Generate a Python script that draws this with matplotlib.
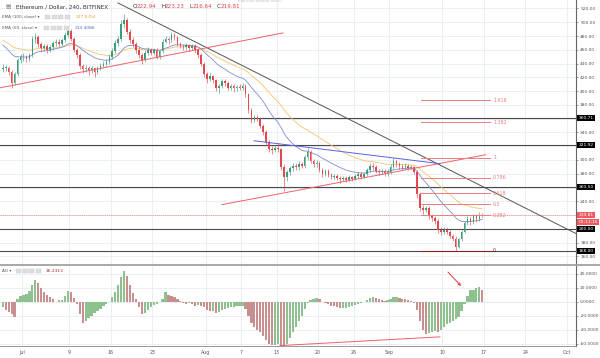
import matplotlib
matplotlib.use("Agg")
import matplotlib.pyplot as plt
import matplotlib.dates as mdates
from matplotlib.transforms import blended_transform_factory
from datetime import datetime, timedelta
import numpy as np

# 12h candles, ETH/USD
start = datetime(2018, 6, 27, 12)
closes = [434,434,428,412,425,445,449,450,447,452,
          476,478,468,462,466,460,464,470,472,468,
          474,482,488,476,460,452,436,432,434,430,
          433,428,434,437,440,442,450,458,470,476,
          498,503,486,474,468,460,452,445,456,460,
          456,460,450,458,472,476,474,482,478,469,
          466,464,467,463,465,460,452,440,425,418,
          422,416,405,408,414,412,405,407,404,406,
          405,408,396,372,358,362,360,350,340,326,
          316,314,318,316,290,276,282,288,292,290,
          294,292,304,312,298,294,296,286,280,284,
          278,276,277,274,272,274,271,275,273,277,
          279,276,280,286,292,290,284,282,284,281,
          283,290,298,294,291,290,292,289,290,283,
          250,230,228,230,218,216,212,198,196,199,
          196,190,186,174,185,196,208,214,210,218,
          214,220,219.81]
highs = [440,438,437,430,428,448,454,455,453,456,
         480,484,481,471,469,468,467,473,476,475,
         477,486,492,490,478,463,455,440,438,437,
         437,435,437,441,444,446,454,462,474,480,
         503,512,506,490,478,472,464,456,459,464,
         463,463,462,460,475,480,479,486,484,480,
         472,469,470,469,468,468,463,455,443,428,
         426,424,418,411,418,417,414,410,410,409,
         410,412,410,398,375,366,366,363,352,343,
         329,320,322,324,318,294,285,292,296,296,
         298,297,307,318,314,301,300,299,289,287,
         287,281,280,280,277,277,277,278,277,280,
         282,282,283,289,296,295,293,287,287,287,
         287,294,303,300,297,294,295,294,293,292,
         285,253,235,233,233,222,219,215,202,203,
         203,199,193,189,187,198,211,218,217,221,
         222,224,223.2]
lows = [428,429,424,405,409,422,441,444,442,444,
        450,470,464,458,458,456,457,461,466,464,
        465,471,479,473,457,448,432,426,428,424,
        426,420,425,431,434,436,439,447,455,466,
        473,492,483,470,464,456,448,440,442,452,
        452,452,446,447,455,470,469,471,474,466,
        462,459,460,458,459,456,448,436,420,412,
        414,412,400,398,404,408,401,401,399,400,
        401,402,392,368,354,355,356,346,336,322,
        312,309,311,312,286,255,270,278,284,285,
        286,288,289,300,295,290,290,283,276,277,
        275,272,273,271,267,269,268,269,270,271,
        274,272,274,277,283,286,281,278,279,277,
        277,280,287,290,287,286,287,285,286,280,
        245,226,222,224,214,211,207,194,191,192,
        192,187,182,168,172,183,194,205,205,207,
        210,212,216.6]
first_open = 432
ao = [-8,-12,-15,-18,-22,3,8,10,11,15,
      24,31,26,20,14,10,7,3,0,2,
      2,8,15,13,5,-3,-18,-30,-28,-24,
      -20,-17,-14,-10,-7,-3,0,6,14,24,
      35,44,36,24,12,3,-8,-18,-16,-12,
      -8,-5,-3,-1,3,13,10,8,7,4,
      1,-2,-4,-2,-4,-6,-5,-6,-8,-12,
      -14,-14,-16,-15,-12,-10,-9,-8,-8,-7,
      -7,-6,-10,-20,-30,-36,-40,-44,-49,-55,
      -60,-62,-62,-60,-62,-65,-60,-52,-44,-36,
      -28,-20,-10,-2,2,4,5,3,0,-2,
      -4,-6,-7,-8,-9,-9,-9,-8,-6,-5,
      -3,-2,0,2,5,6,5,3,2,1,
      2,3,6,6,5,4,3,2,1,-2,
      -12,-28,-40,-47,-45,-43,-42,-44,-40,-36,
      -32,-30,-28,-25,-22,-14,-3,8,17,17,
      19,21,16]
ema_seed = {"100": 476, "50": 471}

h_levels = [360.71, 321.92, 260.50, 200.00, 168.00]
fib_ratios = [1.618, 1.382, 1, 0.786, 0.618, 0.5, 0.382, 0]
fib_low, fib_high = 168.0, 303.0
last_price = 219.81

price_ticks = list(range(160, 521, 20))
hidden_ticks = [360, 320, 260, 220, 200]
ao_ticks = [40, 20, 0, -20, -40, -60]
date_ticks = [(2018,7,1,'Jul'),(2018,7,9,'9'),(2018,7,16,'16'),(2018,7,23,'23'),
              (2018,8,1,'Aug'),(2018,8,7,'7'),(2018,8,13,'13'),(2018,8,20,'20'),
              (2018,8,26,'26'),(2018,9,1,'Sep'),(2018,9,10,'10'),(2018,9,17,'17'),
              (2018,9,24,'24'),(2018,10,1,'Oct')]

UP, DOWN = '#3f9c7b', '#e5474d'
GRID = '#e6edf5'

n = len(closes)
t = np.array([mdates.date2num(start + timedelta(hours=12*i + 6)) for i in range(n)])
c = np.array(closes, float)
o = np.array([first_open] + closes[:-1], float)
hi = np.array(highs, float)
lo = np.array(lows, float)

def ema(vals, span4h, seed):
    a = 1 - (1 - 2.0/(span4h+1))**3   # 4h span converted to 12h steps
    e = seed
    out = []
    for v in vals:
        e = e + a*(v - e)
        out.append(e)
    return np.array(out)

ema100 = ema(c, 100, ema_seed["100"])
ema50 = ema(c, 50, ema_seed["50"])

W, H = 600, 358
def fx(px): return px / W
def fy(py): return 1 - py / H

fig = plt.figure(figsize=(6, 3.58), dpi=100)
fig.patch.set_facecolor('white')
ax = fig.add_axes([0, fy(264), 576/W, 264/H])
ax2 = fig.add_axes([0, fy(346), 576/W, 80/H], sharex=ax)

d0 = mdates.date2num(datetime(2018, 7, 1))
ppd = 5.92
ax.set_xlim(d0 - 22/ppd, d0 + 554/ppd)
k = 0.69
ax.set_ylim(520 - 256/k, 520 + 8.5/k)
ax2.set_ylim(-(346 - 301.5)/0.7, (301.5 - 266)/0.7)

for a in (ax, ax2):
    for s in ['top', 'left', 'bottom']:
        a.spines[s].set_visible(False)
    a.spines['right'].set_color('#666666')
    a.spines['right'].set_linewidth(0.8)
    a.yaxis.tick_right()
    a.tick_params(axis='y', labelsize=3.2, colors='#555555', length=1.5, width=0.4, pad=1.5)
    a.tick_params(axis='x', length=0)
    a.set_facecolor('white')
ax2.spines['bottom'].set_visible(True)
ax2.spines['bottom'].set_color('#888888')
ax2.spines['bottom'].set_linewidth(0.6)

dnums = [mdates.date2num(datetime(y, m, d)) for y, m, d, _ in date_ticks]
for a in (ax, ax2):
    for dn in dnums:
        a.axvline(dn, color=GRID, lw=0.6, zorder=0)

ax.set_yticks(price_ticks)
ax.set_yticklabels(['' if p in hidden_ticks else f'{p:.2f}' for p in price_ticks])
for p in price_ticks:
    ax.axhline(p, color=GRID, lw=0.6, zorder=0)
ax2.set_yticks(ao_ticks)
ax2.set_yticklabels([f'{v:.4f}' for v in ao_ticks])
for v in ao_ticks:
    ax2.axhline(v, color=GRID, lw=0.6, zorder=0)

ax.tick_params(axis='x', labelbottom=False)
ax2.set_xticks(dnums)
ax2.set_xticklabels([lab for *_, lab in date_ticks])
ax2.tick_params(axis='x', labelsize=3.4, colors='#555555', pad=3)

# EMAs
ax.plot(t, ema100, color='#f3c46e', lw=0.6, zorder=2)
ax.plot(t, ema50, color='#7f8bd6', lw=0.6, zorder=2)

# candles
cw = 0.5 * 0.55
col = [UP if cc >= oo else DOWN for oo, cc in zip(o, c)]
ax.vlines(t, lo, hi, colors=col, lw=0.45, zorder=3)
body_lo = np.minimum(o, c)
body_h = np.maximum(np.abs(c - o), 0.8)
ax.bar(t, body_h, bottom=body_lo, width=cw, color=col, lw=0, zorder=4)

# horizontal levels
for lv in h_levels:
    ax.axhline(lv, color='#4a4a4a', lw=0.8, zorder=1)
ax.axhline(last_price, color='#f08a8a', lw=0.5, ls=(0, (2, 1)), zorder=1)

# trendlines (drawn tools)
def dpx(px): return d0 + (px - 22)/ppd
def ppx(py): return 520 - (py - 8.5)/k
ax.plot([dpx(118), dpx(576)], [ppx(3), ppx(234)], color='#555555', lw=0.7, zorder=5)
ax.plot([dpx(0), dpx(283)], [ppx(88), ppx(33)], color='#f0606a', lw=0.7, zorder=5)
ax.plot([dpx(222), dpx(486)], [ppx(205), ppx(155)], color='#f0606a', lw=0.7, zorder=5)
ax.plot([dpx(254), dpx(440)], [ppx(141), ppx(164)], color='#5a63e0', lw=0.7, zorder=5)

# fibonacci extension
for r in fib_ratios:
    lv = fib_low + r*(fib_high - fib_low)
    colr = '#8b1a1a' if r == 0 else '#f07c7c'
    ax.plot([dpx(421), dpx(490)], [lv, lv], color=colr, lw=0.7, zorder=5)
    ax.text(dpx(493), lv, f'{r:g}', fontsize=3.4, color=colr, va='center', ha='left', zorder=6)

# right-axis price labels
tr = blended_transform_factory(ax.transAxes, ax.transData)
for lv in h_levels:
    ax.text(1.004, lv, f'{lv:.2f}', transform=tr, fontsize=3.2, color='white', va='center',
            ha='left', clip_on=False,
            bbox=dict(boxstyle='square,pad=0.25', fc='black', ec='none'))
ax.text(1.004, last_price, f'{last_price:.2f}', transform=tr, fontsize=3.2, color='white',
        va='center', ha='left', clip_on=False,
        bbox=dict(boxstyle='square,pad=0.25', fc='#ef5a5f', ec='none'))
ax.text(1.004, last_price - 9.5, '01:11:16', transform=tr, fontsize=3.2, color='white',
        va='center', ha='left', clip_on=False,
        bbox=dict(boxstyle='square,pad=0.25', fc='#ef5a5f', ec='none'))

# AO histogram
ao_arr = np.array(ao, float)
ao_col = ['#8fc08f' if i == 0 or ao_arr[i] >= ao_arr[i-1] else '#c98f8f' for i in range(n)]
ax2.bar(t, ao_arr, width=0.5*0.75, color=ao_col, lw=0, zorder=3)
ax2.axhline(0, color='#e8e8e8', lw=0.3, zorder=1)
ax2.plot([dpx(280), dpx(440)], [-63, -50.5], color='#f0606a', lw=0.7, zorder=5)
ax2.annotate('', xy=(dpx(463), (301.5-288)/0.7), xytext=(dpx(446), (301.5-270)/0.7),
             arrowprops=dict(arrowstyle='->', color='#e53935', lw=0.7, mutation_scale=4))

# panel separator
fig.add_artist(plt.Line2D([0, 1], [fy(265), fy(265)], color='#9a9a9a', lw=1.2))

# legend texts
fig.text(fx(6), fy(7), '▤', fontsize=4, color='#777777', va='center')
fig.text(fx(16), fy(7), 'Ethereum / Dollar, 240, BITFINEX', fontsize=4.1, color='#333333', va='center')
ox = 133
for lab, val in [('O', '222.94'), ('H', '223.23'), ('L', '216.64'), ('C', '219.81')]:
    fig.text(fx(ox), fy(7), lab, fontsize=4.1, color='#333333', va='center')
    fig.text(fx(ox + 4), fy(7), val, fontsize=4.1, color='#e5474d', va='center')
    ox += 28
fig.text(fx(2), fy(17), 'EMA (100, close) ▾', fontsize=3, color='#555555', va='center')
fig.text(fx(2), fy(28), 'EMA (50, close) ▾', fontsize=3, color='#555555', va='center')
fig.text(fx(76), fy(17), '227.8394', fontsize=3.2, color='#e6a93a', va='center')
fig.text(fx(75), fy(28), '213.4086', fontsize=3.2, color='#5b63c8', va='center')
fig.text(fx(2), fy(271), 'AO ▾', fontsize=3, color='#555555', va='center')
fig.text(fx(46), fy(271), '16.2313', fontsize=3.2, color='#9e2b2b', va='center')
for (bx, by) in [(45, 17), (44, 28), (16, 271)]:
    for j in range(4):
        fig.add_artist(plt.Rectangle((fx(bx + j*6.5), fy(by) - 2.2/H), 5/W, 4.4/H,
                                     fc='#dddddd', ec='#cccccc', lw=0.3))
fig.text(fx(260), fy(1.5), 'Exit Full Screen (ESC)', fontsize=3, color='#bbbbbb',
         va='center', ha='center')

fig.savefig('out.png', dpi=100, facecolor='white')
